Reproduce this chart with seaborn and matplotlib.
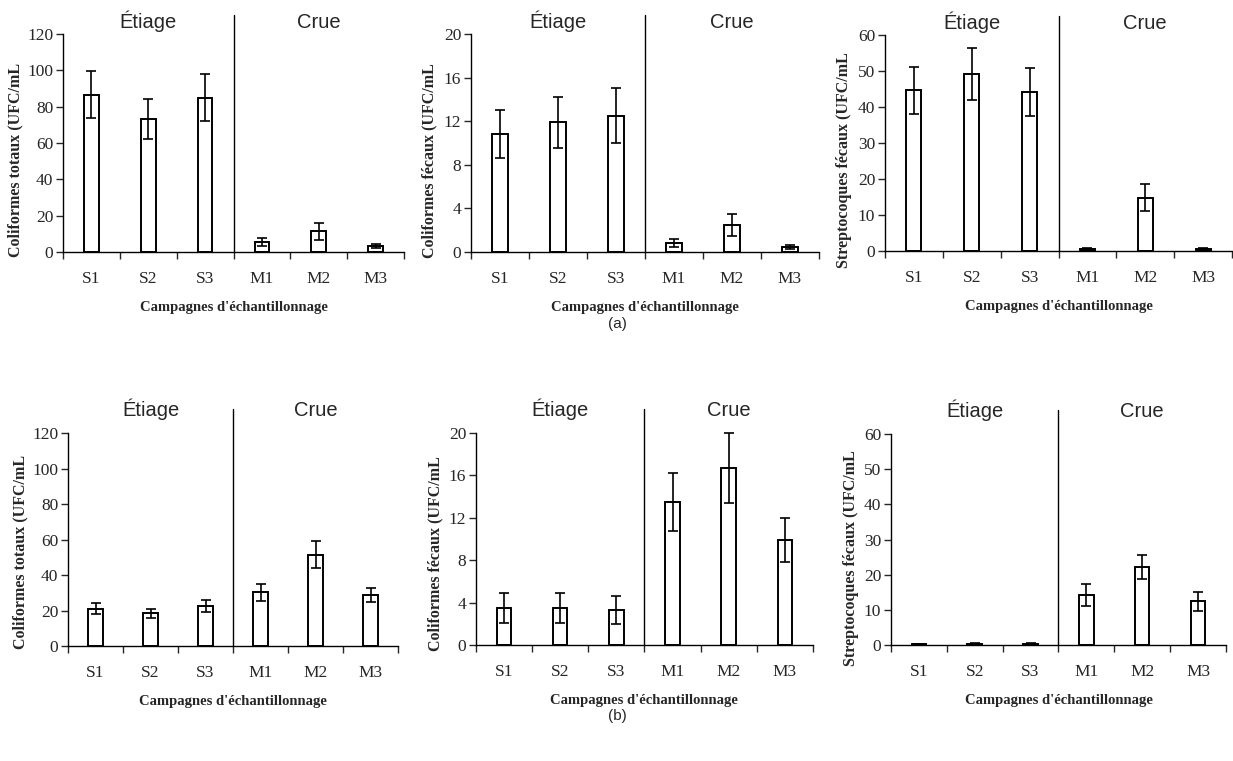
import seaborn as sns
import matplotlib.pyplot as plt
import pandas as pd

# Campagnes d'échantillonnage
campagnes = ["S1", "S2", "S3", "M1", "M2", "M3"]

# (a) moyennes et écarts
a_ct = [86.5, 73.2, 85.0, 5.5, 11.4, 3.3]
a_ct_err = [13.0, 11.0, 13.0, 2.3, 4.6, 1.1]
a_cf = [10.8, 11.9, 12.5, 0.8, 2.45, 0.45]
a_cf_err = [2.2, 2.35, 2.5, 0.35, 1.0, 0.15]
a_sf = [44.6, 49.2, 44.2, 0.6, 14.8, 0.5]
a_sf_err = [6.6, 7.3, 6.7, 0.2, 3.7, 0.2]

# (b) moyennes et écarts
b_ct = [21.0, 18.5, 22.5, 30.3, 51.4, 28.8]
b_ct_err = [3.1, 2.6, 3.2, 4.7, 7.7, 4.1]
b_cf = [3.5, 3.5, 3.3, 13.5, 16.7, 9.9]
b_cf_err = [1.45, 1.45, 1.3, 2.75, 3.3, 2.05]
b_sf = [0.3, 0.4, 0.4, 14.2, 22.2, 12.4]
b_sf_err = [0.1, 0.1, 0.1, 3.05, 3.3, 2.6]

ylabels = ["Coliformes totaux (UFC/mL", "Coliformes fécaux (UFC/mL",
           "Streptocoques fécaux (UFC/mL"]
ymax = [120, 20, 60]
ystep = [20, 4, 10]

sns.set_style("ticks")
plt.rcParams["font.family"] = ["Liberation Serif", "DejaVu Serif"]

fig = plt.figure(figsize=(12.33, 7.61), dpi=100)

positions = [
    [0.0511, 0.6689, 0.2766, 0.2865],
    [0.3820, 0.6689, 0.2822, 0.2865],
    [0.7178, 0.6702, 0.2814, 0.2838],
    [0.0552, 0.1511, 0.2676, 0.2799],
    [0.3860, 0.1524, 0.2733, 0.2786],
    [0.7226, 0.1524, 0.2717, 0.2773],
]
# position des titres d'axe y (x, y en fraction d'axe)
ylab_xy = [(-0.115, 0.42), (-0.098, 0.42), (-0.095, 0.42),
           (-0.121, 0.44), (-0.098, 0.43), (-0.096, 0.41)]
series = [(a_ct, a_ct_err), (a_cf, a_cf_err), (a_sf, a_sf_err),
          (b_ct, b_ct_err), (b_cf, b_cf_err), (b_sf, b_sf_err)]

for i, (pos, (vals, errs)) in enumerate(zip(positions, series)):
    k = i % 3
    top_row = i < 3
    ax = fig.add_axes(pos)
    df = pd.DataFrame({"camp": campagnes, "val": vals})
    sns.barplot(data=df, x="camp", y="val", ax=ax, color="white",
                edgecolor="black", linewidth=1.4, width=0.26,
                errorbar=None, saturation=1)
    eb = ax.errorbar(range(len(vals)), vals, yerr=errs, fmt="none",
                     ecolor="black", elinewidth=1.2, capsize=3.3,
                     capthick=1.2)
    for art in eb.lines[1] + eb.lines[2]:
        art.set_clip_on(False)

    ax.set_xlim(-0.5, 5.5)
    ax.set_ylim(0, ymax[k])
    ax.set_yticks(range(0, ymax[k] + 1, ystep[k]))
    ax.tick_params(axis="y", labelsize=12.5, length=5, width=1, pad=2)

    # ticks at category boundaries, labels at centres
    ax.set_xticks([x - 0.5 for x in range(7)])
    ax.set_xticklabels([])
    ax.set_xticks(range(6), minor=True)
    ax.set_xticklabels(campagnes, minor=True)
    ax.tick_params(axis="x", which="major", length=5, width=1)
    ax.tick_params(axis="x", which="minor", length=0, labelsize=12.5, pad=14)

    sns.despine(ax=ax)
    for s in ["left", "bottom"]:
        ax.spines[s].set_linewidth(1)
        ax.spines[s].set_color("black")

    ax.set_xlabel("Campagnes d'échantillonnage", fontsize=10.5,
                  fontweight="bold", labelpad=10)
    ax.set_ylabel(ylabels[k], fontsize=11.5, fontweight="bold")
    ax.yaxis.set_label_coords(*ylab_xy[i])

    ext = 1.087 if top_row else 1.113
    ax.axvline(2.5, ymin=0, ymax=ext, color="black", lw=1, clip_on=False)
    ty = 1.028 if top_row else 1.08
    ax.text(1, ty, "Étiage", transform=ax.get_xaxis_transform(),
            ha="center", va="baseline", fontsize=14.5,
            family=["Liberation Sans"])
    ax.text(4, ty, "Crue", transform=ax.get_xaxis_transform(),
            ha="center", va="baseline", fontsize=14.5,
            family=["Liberation Sans"])

fig.text(0.5004, 1 - 324 / 761, "(a)", ha="center", va="center",
         fontsize=11, family=["Liberation Sans"])
fig.text(0.5004, 1 - 716 / 761, "(b)", ha="center", va="center",
         fontsize=11, family=["Liberation Sans"])

fig.savefig("out.png", dpi=100, facecolor="white")
